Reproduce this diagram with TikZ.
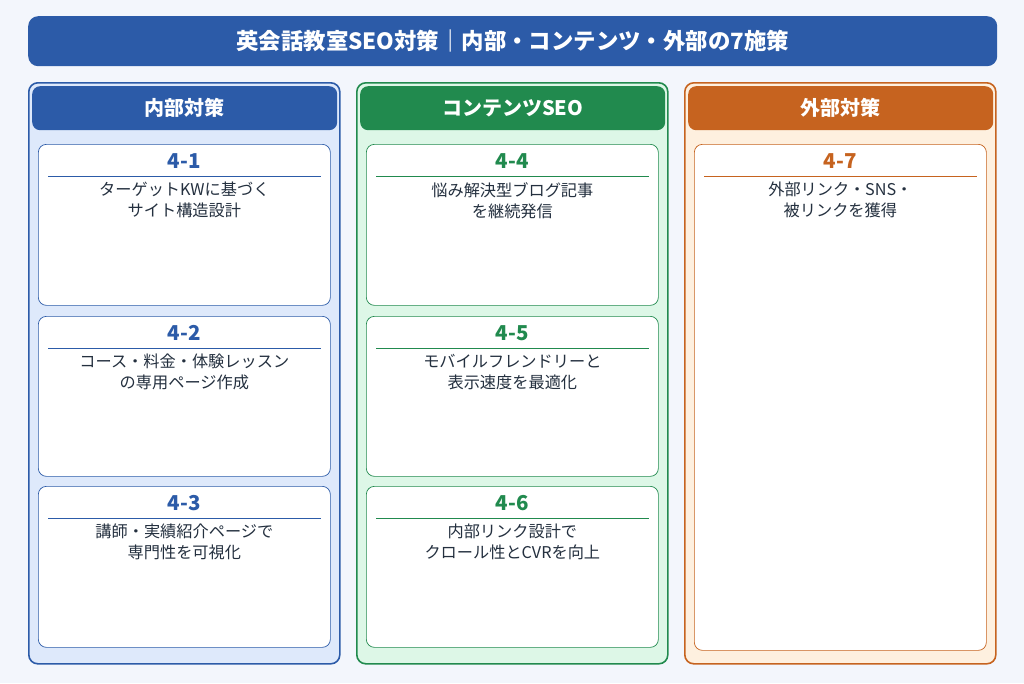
\documentclass[tikz,border=0pt]{standalone}
\usepackage{fontspec}
\setmainfont{Noto Sans CJK JP}
\definecolor{bg}{HTML}{F3F6FC}
\definecolor{cblue}{HTML}{2C5BA8}
\definecolor{cgreen}{HTML}{218A4E}
\definecolor{corange}{HTML}{C6631F}
\definecolor{lblue}{HTML}{DEE9FB}
\definecolor{lgreen}{HTML}{DDF7E7}
\definecolor{lorange}{HTML}{FEF0DF}
\definecolor{txt}{HTML}{24303F}
\tikzset{
  colbox/.style={draw=#1, line width=1.6pt, rounded corners=9pt, anchor=north west, minimum width=311pt, minimum height=581pt, inner sep=0pt},
  hdrbox/.style={fill=#1, rounded corners=8pt, anchor=north west, minimum width=305pt, minimum height=44pt, inner sep=0pt, text=white, font=\bfseries\fontsize{20}{22}\selectfont},
  cardbox/.style={draw=#1, fill=white, line width=0.7pt, rounded corners=8pt, anchor=north west, minimum width=292pt, inner sep=0pt},
  numtxt/.style={text=#1, font=\bfseries\fontsize{20.5}{22}\selectfont, anchor=center, inner sep=0pt},
  bodytxt/.style={text=txt, font=\fontsize{16.2}{21}\selectfont, align=center, anchor=north, inner sep=0pt},
}
\begin{document}
\begin{tikzpicture}[x=1pt,y=-1pt]
\useasboundingbox (0,0) rectangle (1024,683);
\fill[bg] (0,0) rectangle (1024,683);
% title
\node[fill=cblue, rounded corners=10pt, anchor=north west, minimum width=969pt, minimum height=50pt, inner sep=0pt, text=white, font=\bfseries\fontsize{22.4}{24}\selectfont] (title) at (28,16) {英会話教室SEO対策｜内部・コンテンツ・外部の7施策};
% columns
\node[colbox=cblue, fill=lblue] (c1) at (28,82) {};
\node[colbox=cgreen, fill=lgreen] (c2) at (356,82) {};
\node[colbox=corange, fill=lorange] (c3) at (684,82) {};
\node[hdrbox=cblue] (h1) at (32,86) {内部対策};
\node[hdrbox=cgreen] (h2) at (360,86) {コンテンツSEO};
\node[hdrbox=corange] (h3) at (688,86) {外部対策};
% cards
\newcommand{\mycard}[7]{%
  \node[cardbox=#1, minimum height=#4] (#5) at (#2,#3) {};
  \node[numtxt=#1] (#5n) at ([yshift=-17pt]#5.north) {#6};
  \draw[#1, line width=0.7pt] ([xshift=10pt,yshift=-32pt]#5.north west) coordinate (#5a) -- ([xshift=-10pt,yshift=-32pt]#5.north east) coordinate (#5b);
  \node[bodytxt] (#5t) at ([yshift=-38pt]#5.north) {#7};
}
\mycard{cblue}{38}{144}{161pt}{k1}{4-1}{ターゲットKWに基づく\\サイト構造設計}
\mycard{cblue}{38}{316}{160pt}{k2}{4-2}{コース・料金・体験レッスン\\の専用ページ作成}
\mycard{cblue}{38}{486}{161pt}{k3}{4-3}{講師・実績紹介ページで\\専門性を可視化}
\mycard{cgreen}{366}{144}{161pt}{k4}{4-4}{悩み解決型ブログ記事\\を継続発信}
\mycard{cgreen}{366}{316}{160pt}{k5}{4-5}{モバイルフレンドリーと\\表示速度を最適化}
\mycard{cgreen}{366}{486}{161pt}{k6}{4-6}{内部リンク設計で\\クロール性とCVRを向上}
\mycard{corange}{694}{144}{506pt}{k7}{4-7}{外部リンク・SNS・\\被リンクを獲得}
\end{tikzpicture}
\end{document}
